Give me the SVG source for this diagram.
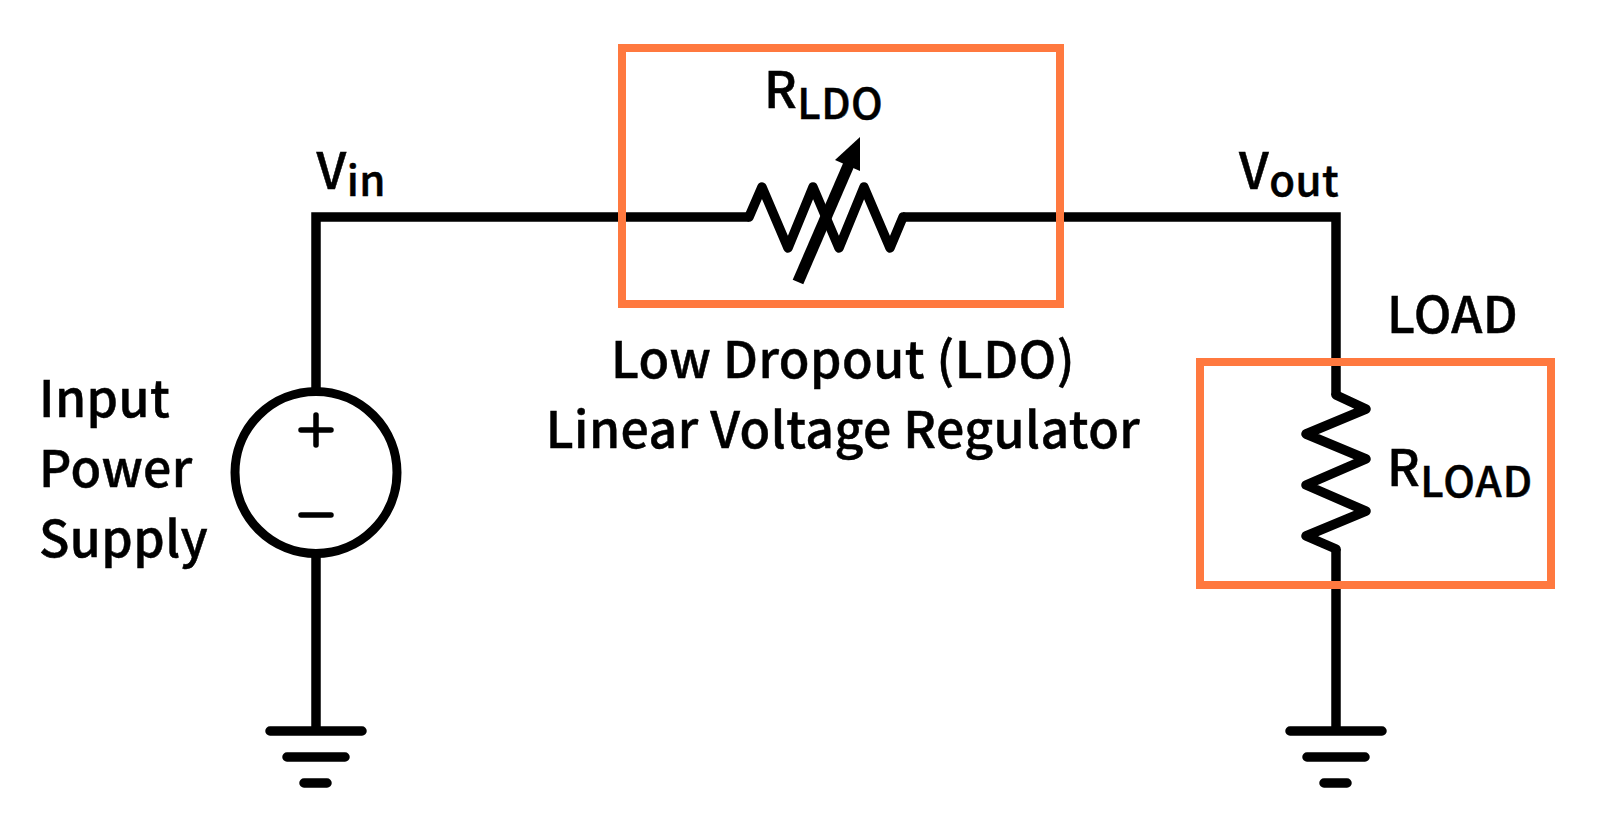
<svg xmlns="http://www.w3.org/2000/svg" width="1600" height="825" viewBox="0 0 1600 825">
<style>
.w{fill:none;stroke:#000;stroke-width:9.500;stroke-linejoin:miter;stroke-linecap:butt}
.z{fill:none;stroke:#000;stroke-width:9.500;stroke-linejoin:round;stroke-linecap:round}
.g{fill:none;stroke:#000;stroke-width:9.500;stroke-linecap:round}
.s{fill:none;stroke:#000;stroke-width:5.500;stroke-linecap:round}
.b{fill:none;stroke:#ff793f;stroke-width:8}
text{font-family:"Noto Sans CJK JP","Noto Sans",sans-serif;font-weight:500;font-size:50px;letter-spacing:.45px;fill:#000;stroke:#000;stroke-width:.5px}
.sub{font-size:42px}
</style>
<rect width="1600" height="825" fill="#fff"/>
<g id="connectors">
<path class="w" d="M316 388V217H749"/>
<path class="z" d="M749 217L762 187L788 248L813 187L839 248L864 187L890 248L903 217"/>
<path class="w" d="M903 217H1336V395"/>
<path class="z" d="M1336 395L1366 409L1306 434L1366 459L1306 485L1366 511L1306 536L1336 549"/>
<path class="w" d="M1336 549V731"/>
<path class="w" d="M316 557V731"/>
</g>
<g id="source">
<circle cx="316" cy="472.500" r="81" fill="none" stroke="#000" stroke-width="9"/>
<path class="s" d="M301 430H331M316 415V445M301 515H331"/>
<text x="39" y="417">Input</text>
<text x="39" y="487">Power</text>
<text x="39" y="557">Supply</text>
</g>
<g id="ground-left"><path class="g" d="M270 731H362M287 757H345M304 783H327"/></g>
<g id="ground-right"><path class="g" d="M1290 731H1382M1307 757H1365M1324 783H1347"/></g>
<g id="vin"><text x="316.500" y="189">V<tspan class="sub" dy="7">in</tspan></text></g>
<g id="vout"><text x="1239" y="189">V<tspan class="sub" dy="7">out</tspan></text></g>
<g id="ldo">
<rect class="b" x="622" y="48" width="438" height="256"/>
<path d="M798 282L849 164" fill="none" stroke="#000" stroke-width="11.500"/>
<polygon points="860,137 835,160 860,171"/>
<text x="764" y="108">R<tspan class="sub" dy="11">LDO</tspan></text>
<text x="843" y="378" text-anchor="middle">Low Dropout (LDO)</text>
<text x="843" y="448" text-anchor="middle">Linear Voltage Regulator</text>
</g>
<g id="load">
<rect class="b" x="1200" y="362" width="351" height="223"/>
<text x="1387" y="333">LOAD</text>
<text x="1387" y="486">R<tspan class="sub" dy="11" letter-spacing="1px">LOAD</tspan></text>
</g>
</svg>
